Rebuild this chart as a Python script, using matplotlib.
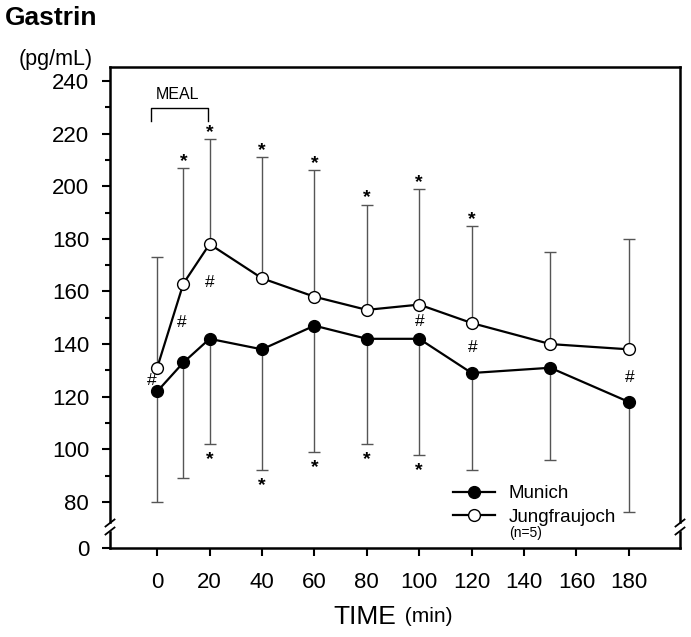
import numpy as np
import matplotlib
matplotlib.use("Agg")
import matplotlib.pyplot as plt
from matplotlib.lines import Line2D

plt.rcParams['font.family'] = ['Liberation Sans', 'DejaVu Sans']

# ---- data ----
time = [0, 10, 20, 40, 60, 80, 100, 120, 150, 180]
munich = [122, 133, 142, 138, 147, 142, 142, 129, 131, 118]
munich_low = [80, 89, 102, 92, 99, 102, 98, 92, 96, 76]
jungfrau = [131, 163, 178, 165, 158, 153, 155, 148, 140, 138]
jungfrau_high = [173, 207, 218, 211, 206, 193, 199, 185, 175, 180]

star_up_x = [10, 20, 40, 60, 80, 100, 120]
star_down_x = [20, 40, 60, 80, 100]
hash_x = [-2.1, 9.5, 20.1, 100.3, 120.6, 180.4]
hash_y = [126.2, 148.3, 163.5, 148.7, 138.8, 127.4]

xticks = [0, 20, 40, 60, 80, 100, 120, 140, 160, 180]
yticks = [0, 80, 100, 120, 140, 160, 180, 200, 220, 240]
yminor = [90, 110, 130, 150, 170, 190, 210, 230]

# ---- broken y scale ----
BRK = 70.0
Z0 = 62.5
def fwd(v):
    v = np.asarray(v, dtype=float)
    return np.where(v >= BRK, v, Z0 + v * (BRK - Z0) / BRK)
def inv(u):
    u = np.asarray(u, dtype=float)
    return np.where(u >= BRK, u, (u - Z0) * BRK / (BRK - Z0))

W, H = 691, 637
fig = plt.figure(figsize=(W / 100, H / 100), dpi=100)
L, R, B, T = 110, 680, 548, 67
ax = fig.add_axes([L / W, 1 - B / H, (R - L) / W, (B - T) / H])
ax.set_yscale('function', functions=(fwd, inv))
ax.set_xlim(-18, 199.5)
ax.set_ylim(0, 245.3)

ecol = '#555555'
t = np.array(time)
m = np.array(munich)
j = np.array(jungfrau)
ax.errorbar(t, m, yerr=[m - np.array(munich_low), np.zeros_like(m)],
            fmt='none', ecolor=ecol, elinewidth=1.0, capsize=4, capthick=1.0, zorder=2)
ax.errorbar(t, j, yerr=[np.zeros_like(j), np.array(jungfrau_high) - j],
            fmt='none', ecolor=ecol, elinewidth=1.0, capsize=4, capthick=1.0, zorder=2)

ax.plot(t, j, '-', color='black', lw=1.6, marker='o', ms=8.5, mfc='white',
        mec='black', mew=1.0, zorder=4)
ax.plot(t, m, '-', color='black', lw=1.6, marker='o', ms=8.5, mfc='black',
        mec='black', mew=1.0, zorder=5)

# significance marks
for xs in star_up_x:
    yv = jungfrau_high[time.index(xs)]
    ax.annotate('*', (xs, yv), xytext=(0, 1.5), textcoords='offset points',
                ha='center', va='baseline', fontsize=14, fontweight='bold')
for xs in star_down_x:
    yv = munich_low[time.index(xs)]
    ax.annotate('*', (xs, yv), xytext=(0, -14.5), textcoords='offset points',
                ha='center', va='baseline', fontsize=14, fontweight='bold')
for hx, hy in zip(hash_x, hash_y):
    ax.text(hx, hy, '#', ha='center', va='center', fontsize=12.5)

# MEAL bracket
ax.plot([-2.4, -2.4, 19.5, 19.5], [224.8, 229.7, 229.7, 224.8], color='black',
        lw=1.0, clip_on=False)
ax.text(7.9, 235, 'MEAL', ha='center', va='center', fontsize=11.5)

# ticks
ax.set_xticks(xticks)
ax.set_xticklabels([str(v) for v in xticks])
ax.set_yticks(yticks)
ax.set_yticklabels([str(v) for v in yticks])
ax.set_yticks(yminor, minor=True)
ax.tick_params(axis='both', which='major', direction='out', length=6, width=1.5,
               labelsize=16)
ax.tick_params(axis='y', which='major', pad=9)
ax.tick_params(axis='x', which='major', pad=11)
ax.tick_params(axis='y', which='minor', direction='out', length=3.6, width=1.5)
ax.tick_params(axis='x', which='minor', bottom=False)
ax.tick_params(right=False, top=False)

for s in ['top', 'bottom']:
    ax.spines[s].set_linewidth(1.8)
ax.spines['left'].set_visible(False)
ax.spines['right'].set_visible(False)

# manual left/right spines with break marks
axw, axh = (R - L), (B - T)
def fy(px):
    return (B - px) / axh
gap_top, gap_bot = 521.5, 532.0
for xa in [0.0, 1.0]:
    ax.plot([xa, xa], [fy(gap_top), 1.0], color='black', lw=1.8,
            transform=ax.transAxes, clip_on=False, solid_capstyle='projecting')
    ax.plot([xa, xa], [0.0, fy(gap_bot)], color='black', lw=1.8,
            transform=ax.transAxes, clip_on=False, solid_capstyle='projecting')
    for cy in [523.0, 531.0]:
        ax.plot([xa - 4.5 / axw, xa + 4.5 / axw], [fy(cy + 3.5), fy(cy - 3.5)],
                color='black', lw=1.3, transform=ax.transAxes, clip_on=False)

# legend
handles = [Line2D([], [], color='black', lw=1.6, marker='o', ms=8.5, mfc='black', mec='black'),
           Line2D([], [], color='black', lw=1.6, marker='o', ms=8.5, mfc='white', mec='black')]
ax.legend(handles, ['Munich', 'Jungfraujoch'], loc='upper left',
          bbox_to_anchor=(453 / W, 1 - 485 / H), bbox_transform=fig.transFigure,
          frameon=False, fontsize=13.5, handlelength=2.25, handletextpad=0.7,
          labelspacing=0.36, borderpad=0, borderaxespad=0)
fig.text(509 / W, 1 - 533 / H, '(n=5)', ha='left', va='center', fontsize=10)

# titles / labels
fig.text(5 / W, 1 - 18 / H, 'Gastrin', ha='left', va='center', fontsize=19,
         fontweight='bold')
fig.text(56 / W, 1 - 59 / H, '(pg/mL)', ha='center', va='center', fontsize=15.5)
fig.text(396 / W, 1 - 617 / H, 'TIME', ha='right', va='center', fontsize=19)
fig.text(399 / W, 1 - 617 / H, ' (min)', ha='left', va='center', fontsize=15)

fig.savefig('out.png', dpi=100)
